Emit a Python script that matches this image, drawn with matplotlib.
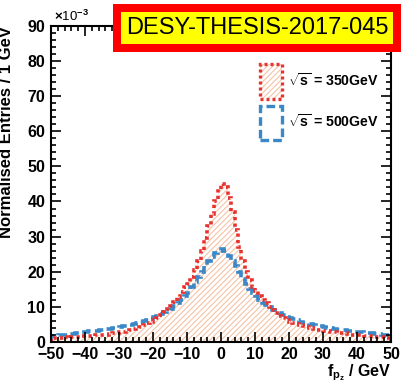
import numpy as np
import matplotlib.pyplot as plt
from matplotlib.patches import Rectangle, Patch
from matplotlib.ticker import MultipleLocator
mpl_config = {
    'font.family': 'Liberation Sans',
    'font.weight': 'bold',
    'axes.labelweight': 'bold',
    'font.size': 10,
    'mathtext.fontset': 'custom',
    'mathtext.rm': 'Liberation Sans:bold',
    'mathtext.it': 'Liberation Sans:bold',
    'mathtext.bf': 'Liberation Sans:bold',
    'hatch.linewidth': 0.8,
}
plt.rcParams.update(mpl_config)
del mpl_config

# 1 GeV bins from -50 to 50 (values in units of 1e-3)
edges = np.arange(-50, 51, 1)
red_350 = [
    1.0, 1.1, 1.0, 1.2, 1.3, 1.2, 1.4, 1.5, 1.4, 1.6,
    1.7, 1.6, 1.8, 1.9, 2.0, 2.1, 2.0, 2.3, 2.4, 2.5,
    2.7, 2.9, 3.1, 3.3, 3.6, 3.9, 4.3, 4.8, 5.3, 5.8,
    6.3, 6.9, 7.6, 8.4, 9.3, 10.3, 11.5, 12.8, 14.2, 15.5,
    16.5, 18.5, 20.5, 23.0, 26.0, 29.5, 33.0, 36.5, 40.0, 43.5,
    45.0, 44.0, 41.0, 37.0, 32.0, 27.0, 23.0, 20.0, 17.5, 15.5,
    14.5, 13.0, 12.0, 11.0, 10.0, 9.0, 8.2, 7.5, 6.8, 6.2,
    5.8, 5.4, 5.0, 4.7, 4.4, 4.1, 3.9, 3.7, 3.5, 3.3,
    3.2, 3.0, 2.9, 2.7, 2.6, 2.5, 2.4, 2.3, 2.1, 2.0,
    2.0, 1.9, 1.8, 1.7, 1.6, 1.5, 1.4, 1.3, 1.2, 1.1,
]
blue_500 = [
    1.7, 1.8, 1.9, 2.0, 2.1, 2.2, 2.3, 2.4, 2.6, 2.7,
    2.9, 3.0, 3.1, 3.2, 3.4, 3.5, 3.6, 3.8, 3.9, 4.0,
    4.2, 4.4, 4.5, 4.7, 5.0, 5.3, 5.6, 5.9, 6.2, 6.6,
    7.0, 7.4, 7.9, 8.4, 8.9, 9.5, 10.2, 11.0, 12.0, 13.0,
    14.0, 15.5, 17.0, 18.5, 20.0, 21.5, 23.0, 24.2, 25.2, 26.0,
    26.5, 25.8, 24.5, 23.0, 21.5, 19.8, 18.0, 16.5, 15.2, 14.0,
    13.0, 12.0, 11.2, 10.5, 9.8, 9.2, 8.6, 8.1, 7.6, 7.2,
    6.8, 6.4, 6.1, 5.8, 5.5, 5.3, 5.0, 4.8, 4.6, 4.4,
    4.2, 4.0, 3.9, 3.7, 3.5, 3.4, 3.3, 3.1, 3.0, 2.9,
    2.8, 2.7, 2.6, 2.5, 2.4, 2.3, 2.2, 2.1, 2.0, 2.0,
]
labels = [r"$\sqrt{s}$ = 350GeV", r"$\sqrt{s}$ = 500GeV"]

c_red = '#e8322e'
c_blue = '#3a88c8'
c_hatch = '#f6c3a6'
red_ls = (0, (0.9, 0.9))
blue_ls = (0, (2.6, 1.2))

fig = plt.figure(figsize=(4.01, 3.82), dpi=100)
ax = fig.add_axes([0.127, 0.105, 0.848, 0.827])

ax.stairs(red_350, edges, fill=True, facecolor='none', edgecolor=c_hatch,
          hatch='//////', linewidth=0)
ax.stairs(blue_500, edges, color=c_blue, linewidth=2.6, linestyle=blue_ls)
ax.stairs(red_350, edges, color=c_red, linewidth=2.6, linestyle=red_ls)

ax.set_xlim(-50, 50)
ax.set_ylim(0, 90)
ax.xaxis.set_major_locator(MultipleLocator(10))
ax.xaxis.set_minor_locator(MultipleLocator(2))
ax.yaxis.set_major_locator(MultipleLocator(10))
ax.yaxis.set_minor_locator(MultipleLocator(2))
ax.tick_params(which='both', direction='in', top=True, right=True,
               width=1.2, labelsize=11.5)
ax.tick_params(which='major', length=7)
ax.tick_params(which='minor', length=3.5)
ax.tick_params(axis='x', pad=4)
ax.tick_params(axis='y', pad=4)
for lab in ax.get_xticklabels() + ax.get_yticklabels():
    lab.set_fontweight('bold')
for sp in ax.spines.values():
    sp.set_linewidth(1.5)

ax.set_ylabel("Normalised Entries / 1 GeV", loc='top', fontsize=12,
              fontweight='bold')
ax.yaxis.set_label_coords(-0.11, 1.0)
ax.set_xlabel(r"f$_{\mathrm{p}_{\mathrm{z}}}$ / GeV", loc='right', fontsize=11.5,
              fontweight='bold')
ax.xaxis.set_label_coords(1.0, -0.064)
fig.text(0.135, 0.938, r"$\times$10$^{-3}$", fontsize=9.5, fontweight='normal',
         va='bottom', ha='left')

# legend: hatched box (light hatch, dotted red frame) and dashed blue box
red_handle = (
    Patch(facecolor='none', edgecolor=c_hatch, hatch='//////', linewidth=0),
    Patch(facecolor='none', edgecolor=c_red, linestyle=red_ls, linewidth=2.4),
)
blue_handle = Patch(facecolor='none', edgecolor=c_blue, linestyle=blue_ls,
                    linewidth=2.4)
leg = ax.legend([red_handle, blue_handle], labels, loc='upper left',
                bbox_to_anchor=(0.63, 0.85), bbox_transform=fig.transFigure,
                frameon=False, fontsize=10.2, handlelength=1.55,
                handleheight=3.4, handletextpad=0.45, labelspacing=0.45,
                borderpad=0)
for t in leg.get_texts():
    t.set_fontweight('bold')

# thesis stamp
W, H = 401, 382
fig.add_artist(Rectangle((113 / W, 1 - 52 / H), 288 / W, 48 / H,
                         transform=fig.transFigure, facecolor='#ff0000',
                         edgecolor='none', zorder=5))
fig.add_artist(Rectangle((121 / W, 1 - 44 / H), 272 / W, 32 / H,
                         transform=fig.transFigure, facecolor='#ffff00',
                         edgecolor='none', zorder=6))
fig.text(257 / W, 1 - 28 / H, "DESY-THESIS-2017-045", fontsize=17,
         fontweight='normal', ha='center', va='center', zorder=7)

fig.savefig("out.png", dpi=100)
